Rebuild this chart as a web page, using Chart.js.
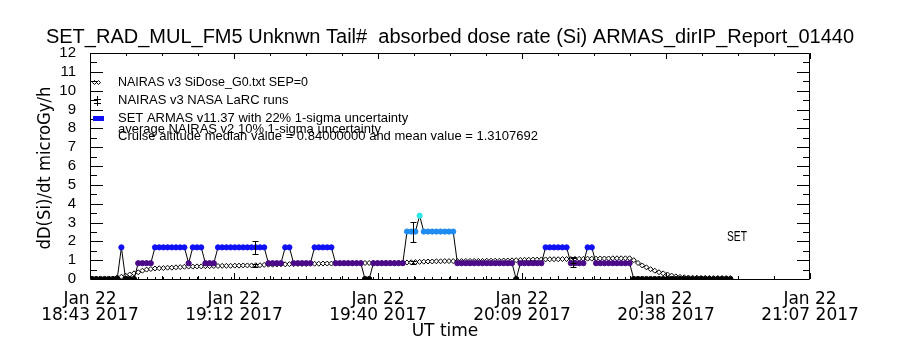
<!DOCTYPE html>
<html>
<head>
<meta charset="utf-8">
<script src="https://cdn.jsdelivr.net/npm/chart.js@4.4.1/dist/chart.umd.min.js"></script>
<style>
  body { margin: 0; background: #fff; }
  canvas { display: block; }
</style>
</head>
<body>
<canvas id="doseChart" width="900" height="350"></canvas>
<script>
// x axis is minutes after 18:43 UT
const tickMinutes = [0, 28.8, 57.6, 86.4, 115.2, 144];
const tickDate = 'Jan 22';
const tickTimes = ['18:43 2017', '19:12 2017', '19:40 2017', '20:09 2017', '20:38 2017', '21:07 2017'];

// both series are sampled at the same cadence
const sampleStep = 0.84;
const armasStart = 0.4;
const nairasStart = 5.44;

// SET ARMAS dose rate (microGy/h)
const armasValues = [
  0, 0, 0, 0, 0, 0, 0, 1.68, 0, 0,
  0, 0.84, 0.84, 0.84, 0.84, 1.68, 1.68, 1.68, 1.68, 1.68,
  1.68, 1.68, 1.68, 0.84, 1.68, 1.68, 1.68, 0.84, 0.84, 0.84,
  1.68, 1.68, 1.68, 1.68, 1.68, 1.68, 1.68, 1.68, 1.68, 1.68,
  1.68, 1.68, 0.84, 0.84, 0.84, 0.84, 1.68, 1.68, 0.84, 0.84,
  0.84, 0.84, 0.84, 1.68, 1.68, 1.68, 1.68, 1.68, 0.84, 0.84,
  0.84, 0.84, 0.84, 0.84, 0.84, 0, 0, 0.84, 0.84, 0.84,
  0.84, 0.84, 0.84, 0.84, 0.84, 2.52, 2.52, 2.52, 3.36, 2.52,
  2.52, 2.52, 2.52, 2.52, 2.52, 2.52, 2.52, 0.84, 0.84, 0.84,
  0.84, 0.84, 0.84, 0.84, 0.84, 0.84, 0.84, 0.84, 0.84, 0.84,
  0.84, 0, 0.84, 0.84, 0.84, 0.84, 0.84, 0.84, 1.68, 1.68,
  1.68, 1.68, 1.68, 1.68, 0.84, 0.84, 0.84, 0.84, 1.68, 1.68,
  0.84, 0.84, 0.84, 0.84, 0.84, 0.84, 0.84, 0.84, 0.84, 0,
  0, 0, 0, 0, 0, 0, 0, 0, 0, 0,
  0, 0, 0, 0, 0, 0, 0, 0, 0, 0,
  0, 0, 0
];

// NAIRAS v3 SiDose_G0.txt SEP=0
const nairasValues = [
  0.08, 0.12, 0.18, 0.24, 0.30, 0.36, 0.44, 0.50, 0.53, 0.56,
  0.57, 0.58, 0.60, 0.60, 0.62, 0.63, 0.65, 0.66, 0.66, 0.67,
  0.67, 0.68, 0.68, 0.69, 0.69, 0.70, 0.70, 0.70, 0.71, 0.71,
  0.72, 0.72, 0.72, 0.73, 0.73, 0.75, 0.76, 0.76, 0.77, 0.78,
  0.78, 0.79, 0.79, 0.80, 0.80, 0.80, 0.81, 0.81, 0.81, 0.82,
  0.82, 0.82, 0.83, 0.83, 0.83, 0.84, 0.84, 0.84, 0.84, 0.85,
  0.85, 0.85, 0.85, 0.86, 0.86, 0.86, 0.86, 0.87, 0.87, 0.88,
  0.89, 0.90, 0.91, 0.92, 0.93, 0.93, 0.94, 0.94, 0.95, 0.95,
  0.95, 0.95, 0.95, 0.96, 0.96, 0.96, 0.96, 0.96, 0.97, 0.97,
  0.97, 0.97, 0.98, 0.98, 0.99, 1.00, 1.01, 1.02, 1.02, 1.03,
  1.03, 1.04, 1.04, 1.05, 1.05, 1.05, 1.06, 1.06, 1.06, 1.07,
  1.07, 1.07, 1.08, 1.08, 1.08, 1.09, 1.09, 1.09, 1.10, 1.10,
  1.10, 1.10, 1.10, 1.00, 0.85, 0.72, 0.62, 0.52, 0.44, 0.36,
  0.30, 0.24, 0.18, 0.14, 0.11, 0.09, 0.08, 0.07, 0.07, 0.06,
  0.06, 0.06, 0.05, 0.05, 0.05, 0.05, 0.05
];

// NASA LaRC runs and averages with 1-sigma bars
const errTimes = [33, 64.6, 96.6];
const larcValues = [0.74, 0.88, 0.98];
const larcErrors = [0.08, 0.07, 0.12];
const avgValues = [1.68, 2.50, 0.90];
const avgErrors = [0.36, 0.55, 0.25];

const titleText = 'SET_RAD_MUL_FM5 Unknwn Tail#  absorbed dose rate (Si) ARMAS_dirIP_Report_01440';
const legendLines = [
  'NAIRAS v3 SiDose_G0.txt SEP=0',
  'NAIRAS v3 NASA LaRC runs',
  'SET ARMAS v11.37 with 22% 1-sigma uncertainty',
  'average NAIRAS v2 10% 1-sigma uncertainty',
  'Cruise altitude median value = 0.84000000 and mean value = 1.3107692'
];

// colour of an ARMAS dot by dose level (0, 0.84, 1.68, 2.52, 3.36)
const levelColors = ['#000000', '#4b0a87', '#1010f5', '#1e8cf0', '#2ee6e6'];
function armasColor(v) {
    return levelColors[Math.min(levelColors.length - 1, Math.round(v / 0.84))];
}

function errorBar(ctx, x, y, t, v, e, cap) {
    const px = Math.round(x.getPixelForValue(t)) + 0.5;
    const top = Math.round(y.getPixelForValue(v + e)) + 0.5;
    const bot = Math.round(y.getPixelForValue(v - e)) + 0.5;
    ctx.beginPath();
    ctx.moveTo(px, top); ctx.lineTo(px, bot);
    ctx.moveTo(px - cap, top); ctx.lineTo(px + cap, top);
    ctx.moveTo(px - cap, bot); ctx.lineTo(px + cap, bot);
    ctx.stroke();
}

const framePlugin = {
    id: 'frame',
    afterDatasetsDraw(chart) {
        const ctx = chart.ctx;
        const a = chart.chartArea;
        const x = chart.scales.x;
        const y = chart.scales.y;
        ctx.save();
        ctx.strokeStyle = '#000';
        ctx.lineWidth = 1;

        // error bars
        for (let i = 0; i < errTimes.length; i++) {
            errorBar(ctx, x, y, errTimes[i], avgValues[i], avgErrors[i], 3);
            errorBar(ctx, x, y, errTimes[i], larcValues[i], larcErrors[i], 3);
        }

        // box
        ctx.beginPath();
        ctx.rect(a.left + 0.5, a.top + 0.5, a.right - a.left - 1, a.bottom - a.top);
        ctx.stroke();

        // y ticks both sides
        ctx.beginPath();
        for (let v = 0.5; v < 12; v += 0.5) {
            const py = Math.round(y.getPixelForValue(v)) + 0.5;
            const len = Number.isInteger(v) ? 13 : 7;
            ctx.moveTo(a.left, py); ctx.lineTo(a.left + len, py);
            ctx.moveTo(a.right, py); ctx.lineTo(a.right - len, py);
        }
        // x ticks top and bottom
        for (let t = 0; t <= 144.01; t += 7.2) {
            const px = Math.round(x.getPixelForValue(t)) + 0.5;
            const major = tickMinutes.some(m => Math.abs(m - t) < 0.01);
            const len = major ? 6 : 3;
            ctx.moveTo(px, a.bottom); ctx.lineTo(px, a.bottom - len);
            ctx.moveTo(px, a.top); ctx.lineTo(px, a.top + len);
        }
        // small marks along the bottom at the sample times
        for (let i = 11; i < 129; i += 2) {
            const px = Math.round(x.getPixelForValue(armasStart + i * sampleStep)) + 0.5;
            ctx.moveTo(px, a.bottom); ctx.lineTo(px, a.bottom - 2);
        }
        ctx.stroke();

        // texts
        ctx.fillStyle = '#000';
        ctx.textBaseline = 'middle';
        ctx.textAlign = 'center';
        ctx.font = '20px "Liberation Sans"';
        ctx.fillText(titleText, 450, 37, 864);
        ctx.font = '17px "DejaVu Sans"';
        ctx.fillText('UT time', 445, 332, 74);
        ctx.save();
        ctx.translate(46, 168);
        ctx.rotate(-Math.PI / 2);
        ctx.font = '17px "DejaVu Sans"';
        ctx.fillText('dD(Si)/dt microGy/h', 0, 0, 163);
        ctx.restore();

        ctx.textAlign = 'left';
        ctx.font = '13px "Liberation Sans"';
        const legY = [82, 100, 118.5, 129, 136];
        const legW = [190, 180, 334, 304, 504];
        legendLines.forEach((s, i) => ctx.fillText(s, 118, legY[i], legW[i]));
        ctx.font = '14px "Liberation Sans"';
        ctx.fillText('SET', 727, 237, 20);

        // legend symbols
        ctx.beginPath();
        [94.5, 98.5].forEach(cx => {
            ctx.moveTo(cx - 2, 82.5); ctx.lineTo(cx, 80.5); ctx.lineTo(cx + 2, 82.5); ctx.lineTo(cx, 84.5); ctx.closePath();
        });
        ctx.moveTo(97.5, 96); ctx.lineTo(97.5, 106);
        ctx.moveTo(94, 99.5); ctx.lineTo(101, 99.5);
        ctx.moveTo(94, 103.5); ctx.lineTo(101, 103.5);
        ctx.stroke();
        ctx.fillStyle = levelColors[2];
        ctx.fillRect(93, 116, 11, 5);
        ctx.restore();
    }
};

new Chart(document.getElementById('doseChart'), {
    type: 'line',
    data: {
        datasets: [
            {
                label: 'SET ARMAS',
                data: armasValues.map((v, i) => ({ x: armasStart + i * sampleStep, y: v })),
                borderColor: '#000',
                borderWidth: 1,
                pointRadius: 2.6,
                pointBorderWidth: 1,
                pointBackgroundColor: c => armasColor(c.raw.y),
                pointBorderColor: c => armasColor(c.raw.y),
                order: 1
            },
            {
                label: 'NAIRAS v3',
                data: nairasValues.map((v, i) => ({ x: nairasStart + i * sampleStep, y: v })),
                borderColor: '#000',
                borderWidth: 1,
                pointStyle: 'rectRot',
                pointRadius: 2.5,
                pointBorderWidth: 1,
                pointBackgroundColor: '#fff',
                pointBorderColor: '#000',
                order: 2
            }
        ]
    },
    options: {
        responsive: false,
        animation: false,
        layout: { padding: { top: 53, right: 90, left: 0, bottom: 0 } },
        plugins: { legend: { display: false }, tooltip: { enabled: false } },
        scales: {
            x: {
                type: 'linear',
                min: 0,
                max: 144,
                afterBuildTicks: s => { s.ticks = tickMinutes.map(v => ({ value: v })); },
                afterFit: s => { s.height = 71; },
                grid: { display: false },
                border: { display: false },
                ticks: {
                    autoSkip: false,
                    maxRotation: 0,
                    padding: 5,
                    color: '#000',
                    font: { family: 'DejaVu Sans', size: 17, lineHeight: 0.94 },
                    callback: (v, i) => [tickDate, tickTimes[i]]
                }
            },
            y: {
                min: 0,
                max: 12,
                afterFit: s => { s.width = 90; },
                grid: { display: false },
                border: { display: false },
                ticks: {
                    stepSize: 1,
                    autoSkip: false,
                    padding: 6,
                    color: '#000',
                    font: { family: '"Liberation Sans Narrow", "Liberation Sans"', size: 15, lineHeight: 1 }
                }
            }
        }
    },
    plugins: [framePlugin]
});
</script>
</body>
</html>
